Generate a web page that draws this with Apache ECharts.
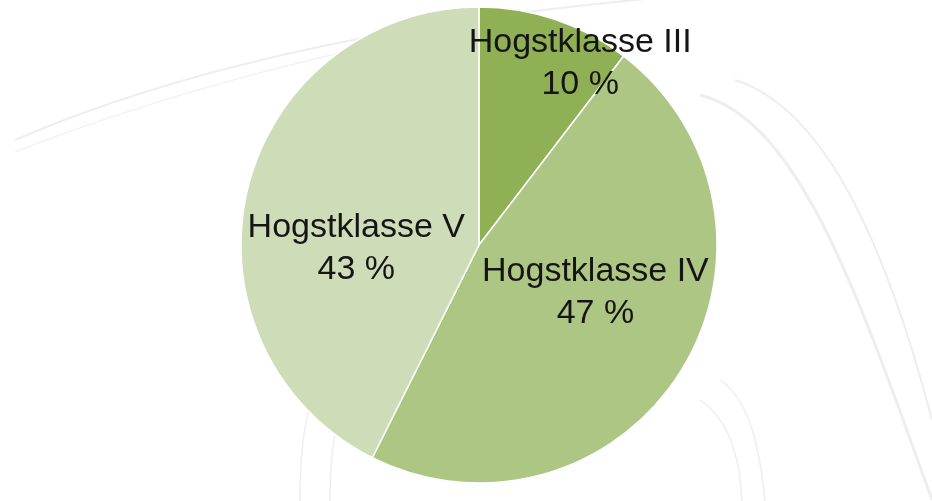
<!DOCTYPE html>
<html>
<head>
<meta charset="utf-8">
<script src="https://cdn.jsdelivr.net/npm/echarts@6/dist/echarts.min.js"></script>
<style>
  html, body { margin: 0; padding: 0; background: #fff; }
  #chart { width: 932px; height: 501px; }
</style>
</head>
<body>
<div id="chart"></div>
<script>
// Hogstklasse fordeling
var categories = ['Hogstklasse III', 'Hogstklasse IV', 'Hogstklasse V'];
var shares = [10.4, 47.0, 42.6];
var sliceColors = ['#8fb055', '#adc684', '#cedcb7'];
// label nudges away from the default "inside" spot
var labelShift = [[62, -66], [13, -17], [-4, 32]];

var chart = echarts.init(document.getElementById('chart'));

var data = categories.map(function (name, i) {
    return {
        name: name,
        value: shares[i],
        itemStyle: { color: sliceColors[i] },
        label: { offset: labelShift[i] }
    };
});

// faint background strokes (decor only)
function bgCurve(p, w) {
    return {
        type: 'bezierCurve',
        silent: true,
        z: -10,
        shape: { x1: p[0], y1: p[1], cpx1: p[2], cpy1: p[3], cpx2: p[4], cpy2: p[5], x2: p[6], y2: p[7] },
        style: { fill: null, stroke: '#eeeeee', lineWidth: w }
    };
}

var option = {
    backgroundColor: '#ffffff',
    animation: false,
    graphic: [
        bgCurve([15, 140, 200, 60, 450, 10, 760, -10], 2),
        bgCurve([15, 152, 210, 75, 430, 30, 520, 20], 1),
        bgCurve([700, 95, 800, 120, 860, 300, 932, 500], 3),
        bgCurve([735, 80, 830, 110, 890, 260, 932, 420], 2),
        bgCurve([300, 501, 300, 420, 310, 370, 360, 350], 1.5),
        bgCurve([330, 501, 330, 430, 340, 385, 380, 370], 1.5),
        bgCurve([720, 380, 750, 400, 760, 450, 765, 501], 1.5),
        bgCurve([700, 400, 730, 420, 740, 460, 742, 501], 1.5)
    ],
    series: [{
        type: 'pie',
        center: [479, 245],
        radius: 238,
        startAngle: 90,
        clockwise: true,
        percentPrecision: 0,
        avoidLabelOverlap: false,
        itemStyle: {
            borderColor: '#ffffff',
            borderWidth: 1.5
        },
        label: {
            show: true,
            position: 'inside',
            formatter: '{b}\n{d} %',
            color: '#151515',
            fontFamily: 'Liberation Sans, Arial, sans-serif',
            fontSize: 34,
            lineHeight: 42,
            align: 'center'
        },
        labelLine: { show: false },
        emphasis: { disabled: true },
        data: data
    }]
};

chart.setOption(option);
</script>
</body>
</html>
